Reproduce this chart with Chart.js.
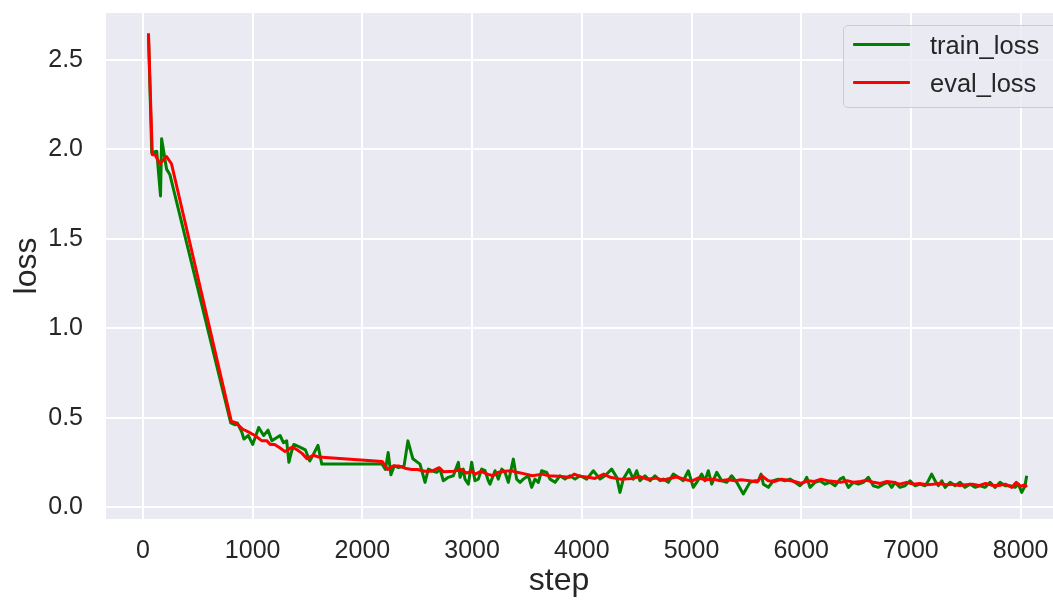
<!DOCTYPE html>
<html>
<head>
<meta charset="utf-8">
<script src="https://cdn.jsdelivr.net/npm/chart.js@4.4.1/dist/chart.umd.min.js"></script>
<style>
  html, body { margin: 0; padding: 0; background: #ffffff; overflow: hidden; }
  #wrap { position: relative; width: 1053px; height: 602px; overflow: hidden; }
  #c { position: absolute; left: 0; top: 0; }
  #legend { position: absolute; left: 843px; top: 25px; width: 240px; height: 81px;
    border: 1px solid #cccccc; border-radius: 5px; background: rgba(234,234,242,0.8);
    font-family: "Liberation Sans", Arial, sans-serif; font-size: 25.5px; color: #262626; }
  .lrow { position: absolute; left: 0; height: 30px; width: 100%; }
  .lline { position: absolute; left: 9px; top: 13px; width: 57px; height: 3px; border-radius: 1px; }
  .ltext { position: absolute; left: 86px; top: 0; line-height: 30px; white-space: nowrap; }
</style>
</head>
<body>
<div id="wrap">
  <canvas id="c" width="1053" height="602"></canvas>
  <div id="legend"></div>
</div>
<script>
// ---- data ----
const trainSteps = [50,80,125,160,170,215,245,800,840,860,900,920,960,1000,1055,1100,1140,1175,1200,1250,1280,1310,1330,1350,1375,1430,1480,1520,1550,1595,1630,2180,2210,2235,2260,2290,2330,2380,2415,2460,2525,2571,2601,2632,2677,2707,2738,2783,2829,2875,2890,2920,2935,2966,2996,3026,3057,3087,3118,3148,3163,3209,3239,3270,3300,3330,3376,3406,3437,3467,3513,3543,3573,3604,3634,3680,3710,3756,3801,3847,3892,3938,3984,4045,4105,4166,4211,4272,4318,4348,4378,4430,4469,4500,4530,4576,4622,4667,4713,4743,4789,4834,4880,4925,4971,5016,5047,5093,5123,5153,5184,5230,5275,5321,5366,5412,5472,5533,5579,5609,5634,5655,5700,5746,5791,5852,5898,5943,5989,6035,6050,6080,6126,6171,6217,6263,6308,6354,6384,6430,6475,6521,6566,6612,6657,6703,6749,6794,6825,6855,6900,6946,6992,7037,7083,7129,7159,7189,7220,7250,7281,7311,7357,7402,7448,7493,7539,7584,7630,7675,7721,7767,7812,7858,7903,7949,7979,8010,8040,8055];
const trainLoss = [2.64,1.98,1.99,1.74,2.06,1.89,1.86,0.47,0.46,0.47,0.42,0.38,0.40,0.35,0.445,0.40,0.43,0.37,0.38,0.40,0.36,0.37,0.25,0.30,0.35,0.335,0.32,0.257,0.29,0.345,0.24,0.24,0.21,0.305,0.18,0.23,0.22,0.23,0.37,0.27,0.24,0.138,0.212,0.203,0.194,0.212,0.147,0.166,0.175,0.25,0.166,0.212,0.156,0.128,0.25,0.147,0.156,0.212,0.203,0.147,0.128,0.203,0.156,0.212,0.194,0.138,0.268,0.156,0.138,0.156,0.175,0.11,0.156,0.138,0.203,0.194,0.156,0.138,0.175,0.156,0.175,0.156,0.175,0.156,0.203,0.156,0.175,0.212,0.166,0.082,0.156,0.21,0.156,0.203,0.147,0.175,0.147,0.175,0.147,0.156,0.138,0.184,0.166,0.147,0.203,0.11,0.138,0.184,0.147,0.203,0.128,0.194,0.147,0.138,0.175,0.138,0.073,0.138,0.147,0.147,0.184,0.128,0.11,0.147,0.156,0.147,0.156,0.138,0.119,0.147,0.166,0.11,0.138,0.147,0.128,0.138,0.119,0.156,0.166,0.11,0.138,0.128,0.138,0.166,0.119,0.11,0.128,0.138,0.11,0.138,0.11,0.119,0.147,0.119,0.128,0.119,0.147,0.184,0.147,0.119,0.147,0.11,0.138,0.119,0.138,0.11,0.128,0.11,0.119,0.11,0.138,0.11,0.138,0.119,0.119,0.11,0.128,0.082,0.119,0.175];

const evalSteps = [50,85,110,155,215,260,805,850,910,960,1020,1085,1130,1160,1200,1250,1295,1360,1405,1450,1495,1550,1600,2180,2230,2280,2330,2400,2450,2500,2570,2630,2700,2740,2830,2900,2950,3000,3030,3080,3140,3190,3240,3300,3360,3410,3490,3550,3640,3700,3780,3890,3930,3980,4060,4120,4200,4260,4350,4420,4460,4530,4600,4680,4740,4800,4860,4920,5000,5060,5130,5200,5260,5330,5400,5450,5530,5600,5640,5660,5700,5760,5820,5880,5940,6000,6060,6120,6180,6240,6300,6360,6420,6480,6540,6600,6660,6720,6780,6840,6900,6960,7020,7080,7140,7200,7260,7320,7380,7440,7500,7560,7620,7680,7740,7800,7860,7920,7960,8000,8040,8055];
const evalLoss = [2.65,1.97,1.97,1.92,1.96,1.92,0.48,0.47,0.435,0.42,0.40,0.37,0.37,0.35,0.35,0.33,0.31,0.335,0.32,0.30,0.27,0.29,0.28,0.255,0.21,0.23,0.23,0.215,0.21,0.21,0.20,0.20,0.22,0.197,0.20,0.21,0.19,0.20,0.184,0.20,0.184,0.175,0.194,0.20,0.203,0.194,0.184,0.175,0.184,0.175,0.172,0.166,0.184,0.172,0.166,0.16,0.184,0.166,0.156,0.158,0.16,0.17,0.155,0.162,0.15,0.16,0.168,0.158,0.145,0.162,0.152,0.156,0.147,0.152,0.147,0.152,0.147,0.14,0.175,0.165,0.147,0.143,0.156,0.15,0.143,0.132,0.147,0.143,0.156,0.147,0.143,0.138,0.147,0.138,0.143,0.15,0.138,0.132,0.143,0.138,0.128,0.138,0.128,0.132,0.125,0.128,0.132,0.125,0.128,0.12,0.125,0.128,0.12,0.132,0.122,0.12,0.128,0.11,0.138,0.115,0.125,0.11];

const seriesNames = ['train_loss', 'eval_loss'];
const xTicks = [0,1000,2000,3000,4000,5000,6000,7000,8000];
const yTicks = [0.0,0.5,1.0,1.5,2.0,2.5];
const xTitle = 'step';
const yTitle = 'loss';

// ---- chart ----
const TXT = '#262626';
const FONT = '"Liberation Sans", Arial, sans-serif';

const bgPlugin = {
  id: 'axesBg',
  beforeDraw(chart) {
    const a = chart.chartArea, ctx = chart.ctx;
    ctx.save();
    ctx.fillStyle = '#EAEAF2';
    ctx.fillRect(a.left, a.top, a.right - a.left, a.bottom - a.top);
    ctx.restore();
    // the x-axis title sits left of the axes centre in the reference
    const s = chart.scales.x;
    s._savedRight = s.right;
    s.right = s.right - 41;
  },
  beforeDatasetsDraw(chart) {
    const s = chart.scales.x;
    if (s._savedRight !== undefined) { s.right = s._savedRight; delete s._savedRight; }
  }
};

function zeroPad(scale) {
  scale.paddingLeft = 0; scale.paddingRight = 0; scale.paddingTop = 0; scale.paddingBottom = 0;
}

const chart = new Chart(document.getElementById('c'), {
  type: 'line',
  data: {
    datasets: [
      {
        label: seriesNames[0],
        data: trainSteps.map((s, i) => ({ x: s, y: trainLoss[i] })),
        borderColor: '#008000', backgroundColor: '#008000',
        borderWidth: 3, pointRadius: 0, tension: 0, order: 2,
        borderJoinStyle: 'round'
      },
      {
        label: seriesNames[1],
        data: evalSteps.map((s, i) => ({ x: s, y: evalLoss[i] })),
        borderColor: '#FF0000', backgroundColor: '#FF0000',
        borderWidth: 3, pointRadius: 0, tension: 0, order: 1,
        borderJoinStyle: 'round'
      }
    ]
  },
  options: {
    responsive: false,
    devicePixelRatio: 1,
    animation: false,
    events: [],
    layout: { padding: { top: 13, right: 0, bottom: 0, left: 0 } },
    plugins: { legend: { display: false }, tooltip: { enabled: false } },
    scales: {
      x: {
        type: 'linear',
        min: -337, max: 8295,
        afterBuildTicks: s => { s.ticks = xTicks.map(v => ({ value: v })); },
        afterFit: s => { s.height = 83; zeroPad(s); },
        grid: { color: '#FFFFFF', lineWidth: 2, drawTicks: false },
        border: { display: false },
        ticks: {
          padding: 17, color: TXT, maxRotation: 0, autoSkip: false,
          font: { family: FONT, size: 25 },
          callback: v => String(v)
        },
        title: { display: true, text: xTitle, color: TXT,
          font: { family: FONT, size: 32 }, padding: { top: 0, bottom: 2 } }
      },
      y: {
        type: 'linear',
        min: -0.067, max: 2.763,
        afterBuildTicks: s => { s.ticks = yTicks.map(v => ({ value: v })); },
        afterFit: s => { s.width = 106; zeroPad(s); },
        grid: { color: '#FFFFFF', lineWidth: 2, drawTicks: false },
        border: { display: false },
        ticks: {
          padding: 23, color: TXT, autoSkip: false,
          font: { family: FONT, size: 25 },
          callback: v => Number(v).toFixed(1)
        },
        title: { display: true, text: yTitle, color: TXT,
          font: { family: FONT, size: 32 }, padding: { top: 8, bottom: 0 } }
      }
    }
  },
  plugins: [bgPlugin]
});

// legend as real text, built from the chart's datasets
const leg = document.getElementById('legend');
chart.data.datasets.forEach((ds, i) => {
  const row = document.createElement('div');
  row.className = 'lrow';
  row.style.top = (4 + i * 38) + 'px';
  const ln = document.createElement('div');
  ln.className = 'lline';
  ln.style.background = ds.borderColor;
  const tx = document.createElement('span');
  tx.className = 'ltext';
  tx.textContent = ds.label;
  row.appendChild(ln); row.appendChild(tx);
  leg.appendChild(row);
});
</script>
</body>
</html>
